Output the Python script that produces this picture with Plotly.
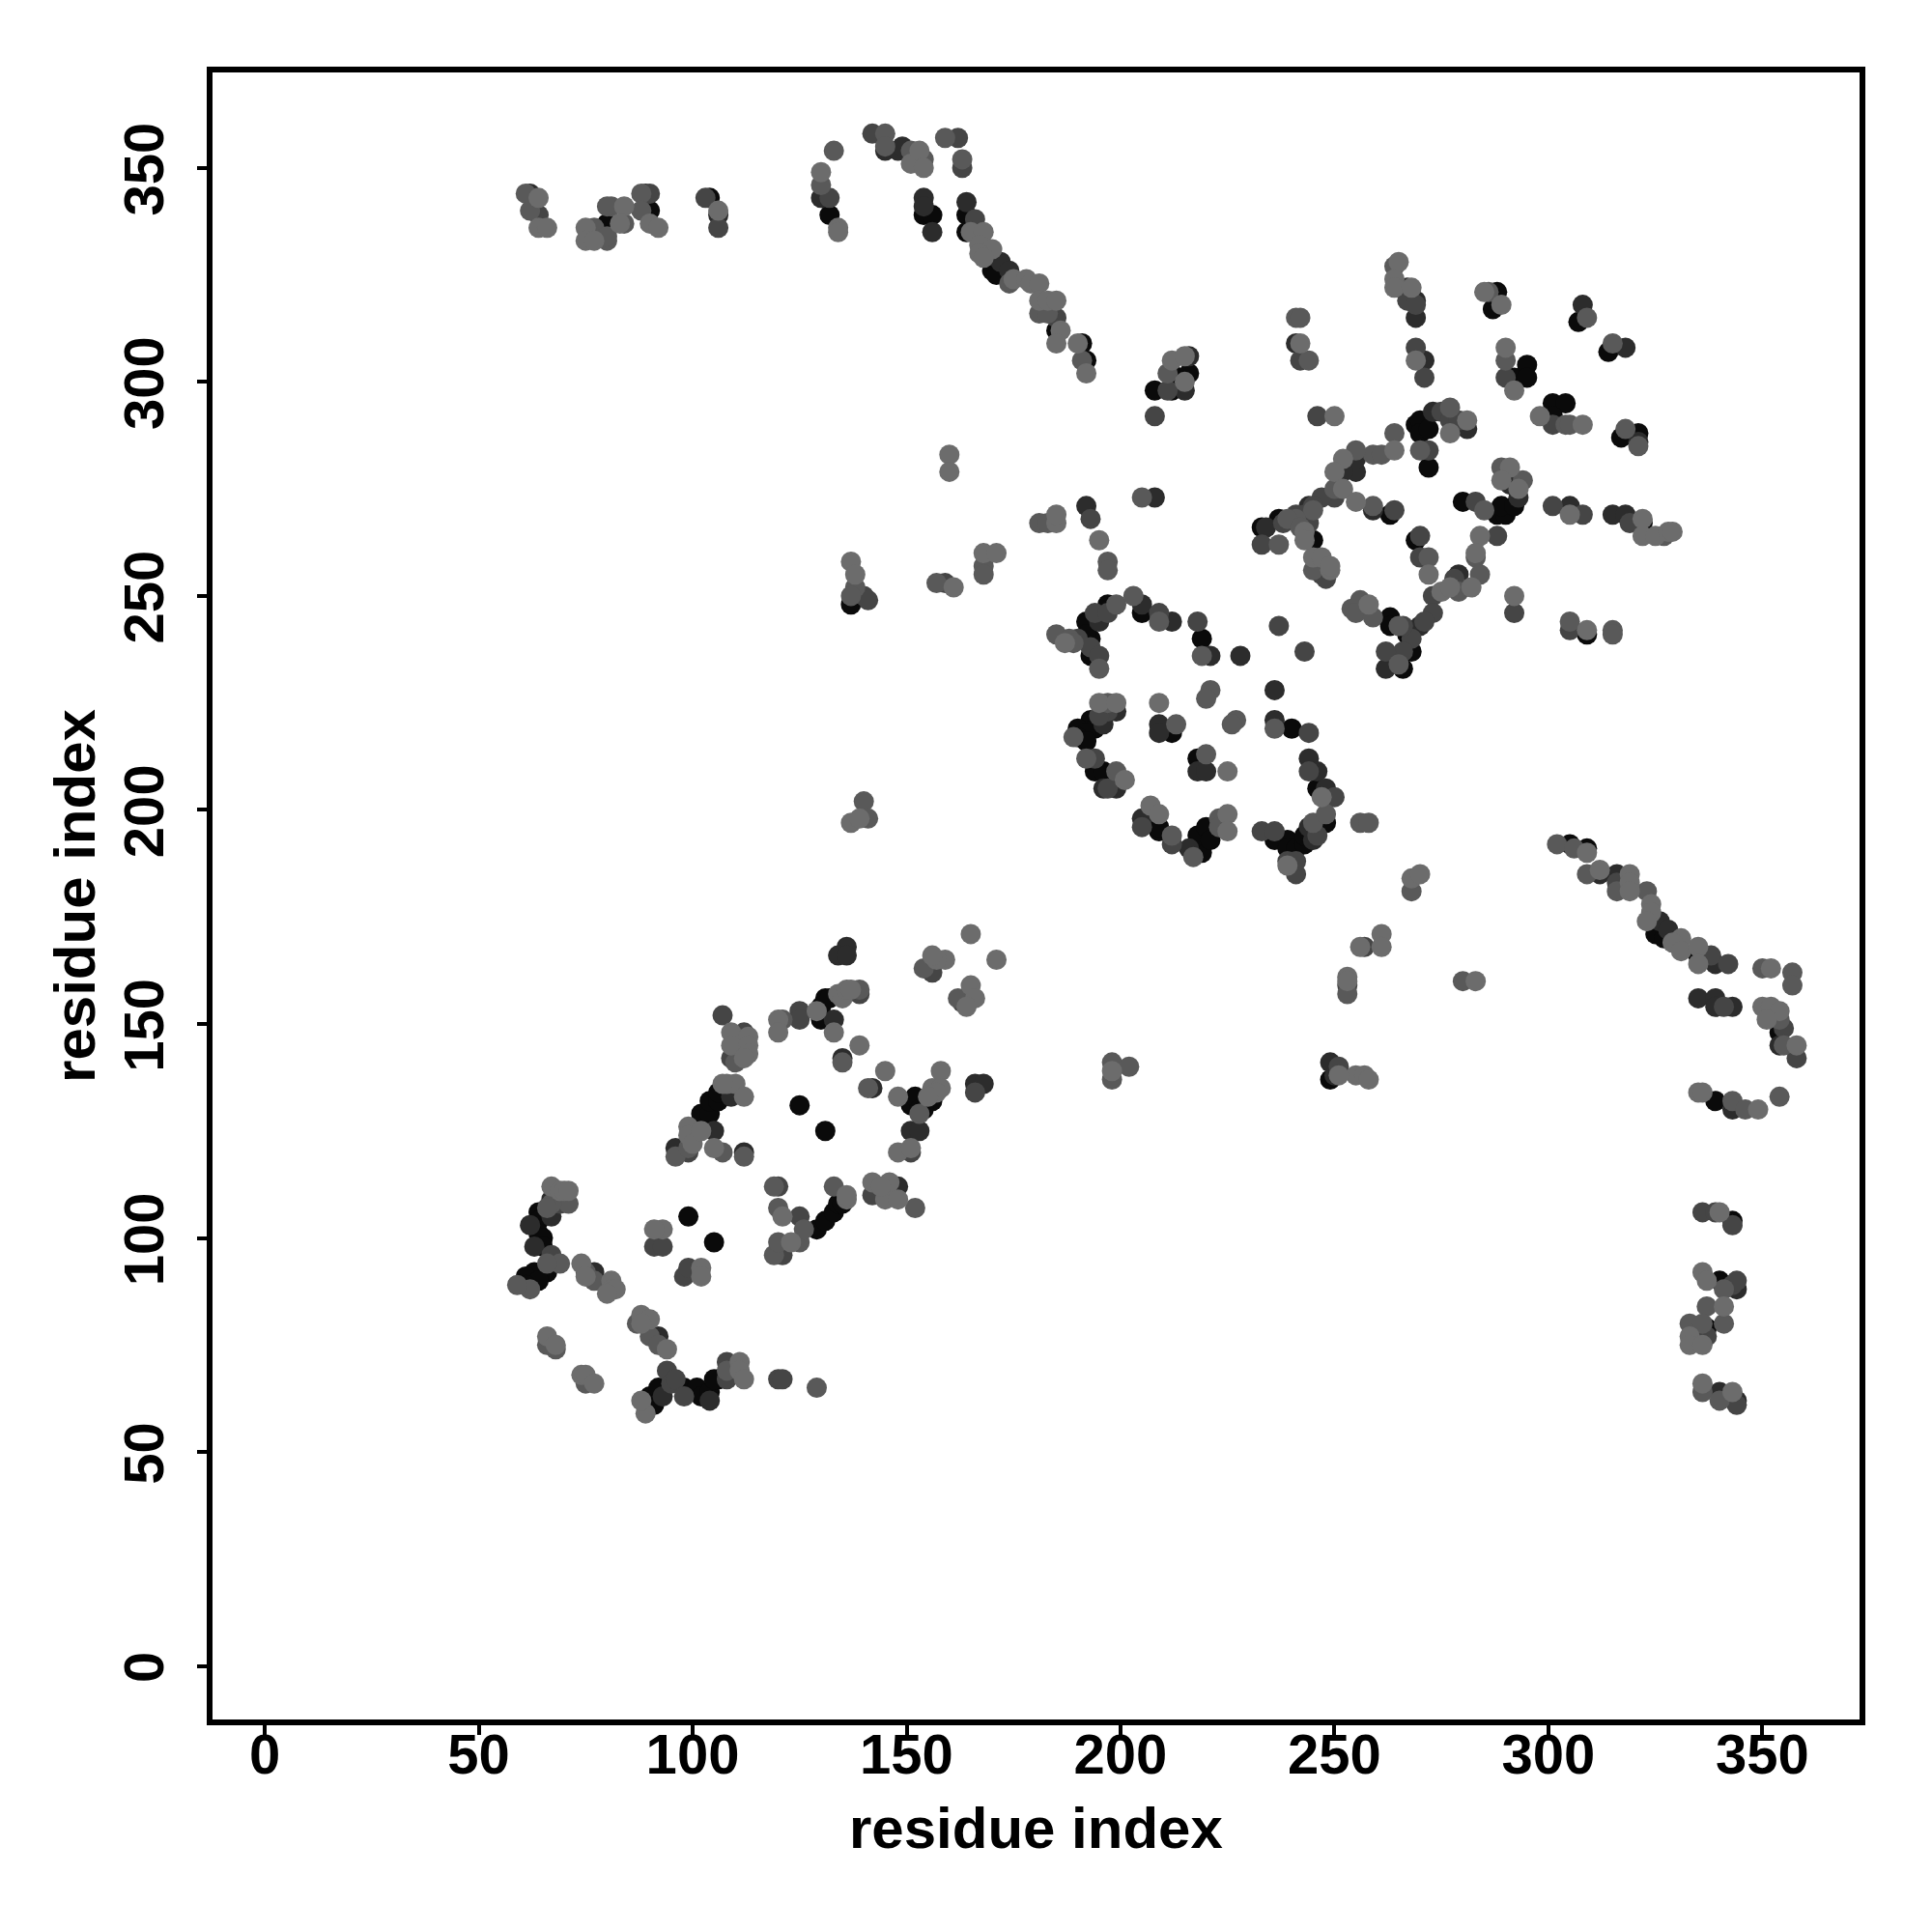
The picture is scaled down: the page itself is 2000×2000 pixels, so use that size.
import plotly.graph_objects as go

# contacts: (residue i, residue j, shade level 1=darkest .. 5=lightest)
helix_turn = [(67,112,5),(69,111,5),(70,111,5),(71,111,5),(71,108,4),(69,108,3),(67,108,4),(66,107,4),(67,109,2),
 (64,106,1),(66,106,1),(67,105,2),(62,103,2),(64,104,1),(64,101,1),(65,100,1),(63,98,2),(65,98,1),(67,96,3),(69,94,4),
 (66,94,4),(66,92,1),(63,92,1),(61,91,1),(64,90,1),(61,89,1),(62,88,4),(59,89,4),(74,94,5),(75,92,4),(77,92,2),(77,90,4),
 (75,91,5),(81,90,5),(81,88,5),(82,88,5),(80,87,5),(93,102,5),(91,102,5),(91,98,3),(93,98,3),(99,105,1),(105,99,1),
 (98,91,3),(99,93,3),(102,93,5),(102,91,5),(119,112,4),(120,112,3),(120,107,4),(121,105,5),(125,105,3),(133,112,4),
 (119,96,4),(121,96,3),(120,99,4),(123,99,5),(125,99,4),(126,102,4),(129,102,1),(131,104,1),(133,106,1),(134,108,1),
 (135,108,1),(136,109,5),(136,110,5)]
low_tail = [(66,77,5),(66,75,4),(68,74,4),(68,75,5),(74,68,5),(75,68,5),(75,66,4),(77,66,5),(88,82,5),(87,80,4),(90,81,5),
 (88,80,5),(90,77,4),(92,77,2),(92,75,4),(94,74,5),(89,59,5),(88,62,5),(89,61,1),(90,63,1),(91,61,1),(92,65,1),(93,63,2),
 (94,69,3),(95,66,3),(96,67,3),(98,63,3),(98,65,1),(101,65,1),(104,62,2),(102,63,1),(104,64,1),(106,67,1),(105,67,1),
 (108,67,3),(108,71,3),(108,69,4),(111,71,5),(111,69,5),(112,67,5),(120,67,3),(121,67,3),(129,65,4)]
mid_sheet = [(165,171,5),(171,165,5),(159,165,5),(157,165,5),(156,166,5),(154,163,4),(156,162,3),(165,159,5),(166,156,5),
 (162,156,4),(164,154,5),(163,155,3),(136,168,2),(134,166,2),(136,166,2),(107,152,3),(109,148,5),(112,148,3),(113,147,5),
 (109,145,5),(113,145,5),(113,143,5),(109,142,3),(110,141,4),(112,142,5),(120,151,5),(121,151,4),(120,148,5),(125,153,3),
 (125,151,3),(129,153,5),(130,154,1),(131,156,1),(130,151,1),(133,151,2),(132,156,1),(133,148,5),(134,157,5),(135,156,5),
 (136,158,5),(139,158,4),(139,157,3),(137,158,5),(139,145,5),(135,142,2),(135,141,4),(145,139,5),(141,135,4),(142,135,2),
 (125,131,1),(131,125,1),(148,133,5),(158,139,5),(156,135,5),(158,135,5),(157,134,5),(155,133,5),(151,131,1),(152,133,1),
 (153,130,1),(156,132,1),(153,129,4),(154,130,1),(151,125,2),(153,125,2),(148,120,5),(151,121,5),(151,120,3),(166,136,2),
 (168,136,2),(166,134,3),(96,121,2),(96,119,4),(99,120,3),(99,126,5),(99,124,5),(100,122,5),(99,121,4),(102,125,5),
 (105,125,2),(102,129,1),(104,129,1),(104,132,1),(106,132,1),(106,134,1),(109,133,2),(108,136,5),(110,136,5),(112,133,5),
 (107,136,5),(105,121,5),(107,120,4),(112,120,2),(112,119,4),(142,113,5),(146,113,5),(148,112,2),(142,110,3),(145,109,5),
 (148,109,5),(152,107,4),(144,112,5)]
top_band = [(61,344,4),(62,344,2),(64,343,5),(62,340,4),(64,339,3),(64,336,5),(66,336,5),(75,336,5),(75,333,5),(77,336,4),
 (77,333,5),(80,333,4),(80,337,1),(81,341,4),(80,341,4),(84,341,5),(84,337,4),(83,337,5),(80,334,4),(88,344,4),(89,344,2),
 (90,344,3),(88,340,4),(90,340,1),(90,337,5),(92,336,5),(103,343,3),(104,343,1),(106,340,5),(106,339,2),(106,336,3),
 (133,354,4),(130,349,5),(130,346,4),(130,343,2),(132,343,3),(132,339,1),(134,336,5),(134,335,5),(142,358,3),(145,358,4),
 (145,354,2),(145,355,4),(148,354,2),(149,355,2),(151,354,4),(151,351,5),(153,354,5),(154,352,4),(154,350,5),(159,357,4),
 (162,357,3),(163,352,4),(163,350,3),(154,343,2),(154,341,2),(154,339,1),(156,339,1),(156,335,2)]
anti_band = [(164,342,2),(164,339,1),(166,338,3),(164,335,1),(165,335,5),(168,335,5),(167,332,5),(170,331,5),(167,330,5),
 (168,329,5),(172,328,2),(170,326,1),(174,326,2),(171,325,1),(174,323,4),(175,324,5),(178,324,5),(179,323,5),(181,323,5),
 (181,319,5),(183,319,5),(185,319,5),(181,316,4),(183,316,4),(185,315,3),(185,312,1),(186,312,5),(185,309,5),(190,309,5),
 (191,309,1),(191,305,4),(192,305,1),(192,302,5),(212,305,5),(216,306,2),(215,306,5),(211,302,4),(212,302,1),(215,300,5),
 (216,302,1),(208,298,1),(211,298,3),(212,298,1),(215,298,2),(208,292,3)]
ring_top = [(185,241,4),(187,239,5),(188,240,4),(189,239,4),(190,240,3),(193,240,1),(192,244,1),(192,241,1),(193,238,3),
 (193,236,1),(195,236,3),(195,233,4),(194,246,3),(195,244,2),(197,246,3),(197,248,1),(199,248,4),(203,250,4),(205,248,2),
 (205,246,1),(209,246,3),(209,244,4),(212,244,2),(218,244,3),(219,240,1),(219,236,4),(221,236,2),(228,236,2),(237,243,3),
 (243,237,3),(221,228,4),(220,226,4),(209,225,5),(227,221,4),(226,220,4),(236,228,2),(236,221,2),(236,219,4),(240,219,1),
 (244,218,3),(209,220,2),(209,218,2),(212,218,1),(213,220,4),(244,212,2),(244,209,3),(246,209,2),(246,205,1),(248,205,2),
 (247,203,5),(250,203,3),(218,212,1),(220,213,4),(218,209,2),(220,209,2),(225,209,5)]
ring_low = [(195,225,5),(197,225,4),(199,225,5),(199,223,2),(197,223,3),(195,222,3),(193,221,1),(196,220,2),(194,219,1),
 (190,219,1),(192,218,1),(189,217,4),(190,217,1),(192,216,1),(192,212,4),(194,212,3),(194,209,1),(196,209,1),(196,205,2),
 (197,205,3),(199,209,4),(201,207,5),(199,205,2),(205,198,2),(205,196,3),(207,201,5),(209,199,5),(209,195,1),(209,196,1),
 (212,194,4),(212,192,3),(216,191,2),(217,189,4),(218,192,1),(219,190,1),(218,194,1),(220,196,1),(221,193,1),(223,198,4),
 (225,199,5),(225,195,5),(223,196,4),(233,195,3),(236,195,3),(236,193,1),(239,193,1),(239,191,1),(239,188,3),(239,187,5),
 (241,185,3),(241,191,1),(241,188,3),(243,192,1),(243,194,1),(245,197,4),(246,194,3),(248,197,1),(248,199,4),(245,193,2),
 (244,196,2),(256,197,4),(258,197,4)]
fan_top = [(265,328,5),(264,327,4),(264,324,5),(264,322,5),(267,322,2),(268,322,5),(267,319,3),(269,319,2),(269,318,3),
 (269,315,2),(241,315,4),(242,315,4),(241,309,2),(242,309,5),(242,305,3),(244,305,4),(269,308,3),(269,305,5),(271,305,2),
 (271,301,3),(285,321,5),(286,321,4),(288,321,1),(287,317,1),(289,318,5),(308,318,2),(307,314,1),(309,315,4),(314,307,1),
 (315,309,4),(318,308,2),(290,308,5),(290,305,4),(290,301,3),(292,301,1),(295,304,1),(295,301,1),(292,298,5),(301,295,1),
 (304,295,1),(301,292,1),(298,292,5),(301,290,3),(304,290,4),(305,290,4),(308,290,5),(317,287,1),(318,289,4),(321,288,1),
 (321,286,2),(321,285,4),(246,292,3),(250,292,5)]
ring_right = [(269,290,1),(270,291,1),(270,288,1),(273,293,2),(272,289,1),(275,293,3),(277,294,4),(277,291,3),(277,288,5),
 (281,289,2),(281,291,5),(279,291,3),(270,284,4),(272,284,3),(272,280,1),(264,288,4),(264,284,5),(259,283,4),(261,283,4),
 (255,284,4),(252,282,5),(255,279,2),(255,282,2),(250,279,5),(252,279,2),(250,275,4),(252,275,5),(250,273,3),(247,273,3),
 (245,271,3),(244,271,2),(245,270,4),(243,269,3),(241,269,3),(244,267,3),(241,268,4),(238,267,3),(237,268,1),(234,266,2),
 (233,262,3),(237,262,4),(233,266,1),(239,268,4),(242,266,4),(243,265,5),(255,272,5),(259,271,4),(259,270,2),(264,270,3),
 (263,269,1),(245,263,1),(243,263,5),(245,259,5),(247,259,5),(245,256,4),(249,256,5),(247,255,3),(248,254,3),(249,257,5),
 (270,264,3),(269,263,1),(270,259,3),(272,259,4),(272,255,5),(280,272,1),(283,272,3),(285,270,4),(288,269,1),(290,269,1),
 (289,271,1),(292,271,1),(293,273,2),(289,280,4),(291,280,5),(289,277,5),(291,276,2),(294,277,4),(293,275,5),(301,271,3),
 (305,271,2),(305,269,5),(308,269,3),(315,269,2),(318,269,2),(319,267,3),(322,268,5),(322,267,1),(322,264,5),(325,264,5),
 (327,264,4),(328,265,5),(329,265,5),(284,264,5),(288,264,3),(283,260,5),(283,259,4),(284,255,4),(279,255,2),(278,254,3),
 (282,252,5),(279,251,4),(275,251,5),(273,250,3),(277,252,5),(292,250,5),(292,246,3),(305,244,4),(305,242,3),(309,242,5),
 (309,241,1),(315,242,4),(315,241,4),(254,247,4),(256,249,4),(255,246,4),(258,248,5),(259,245,4),(263,245,1),(263,243,1),
 (265,243,4),(273,246,3),(271,244,3),(270,243,2),(268,242,2),(267,241,1),(268,240,3),(266,243,3),(268,237,1),(266,237,3),
 (262,237,3),(262,233,2),(266,233,1),(265,234,4)]
lower_right = [(302,192,4),(305,192,1),(306,191,4),(309,191,1),(309,190,5),(309,185,4),(312,186,5),(312,185,2),(316,185,2),
 (316,183,3),(316,181,4),(319,185,5),(319,183,5),(319,181,5),(323,181,4),(324,178,5),(324,176,5),(323,174,5),(326,174,2),
 (325,171,1),(328,172,2),(327,170,1),(331,170,5),(329,169,5),(331,167,5),(335,168,5),(335,166,1),(335,164,5),(338,166,3),
 (339,164,2),(342,164,3),(350,163,4),(352,163,5),(357,162,4),(357,159,4),(335,156,2),(339,156,2),(339,154,2),(343,154,2),
 (341,154,3),(350,154,5),(352,154,5),(354,153,5),(351,151,5),(354,151,4),(355,149,3),(354,148,1),(354,145,2),(355,145,4),
 (358,145,5),(358,142,3),(335,134,5),(336,134,5),(339,132,1),(343,132,4),(343,130,2),(346,130,4),(349,130,5),(354,133,4),
 (336,106,3),(339,106,3),(340,106,5),(343,104,1),(343,103,3),(336,92,5),(337,90,5),(340,90,1),(343,89,3),(344,88,2),
 (341,88,4),(344,90,3),(337,84,4),(341,84,5),(333,80,4),(333,77,5),(333,75,5),(336,75,5),(337,79,1),(337,77,3),(341,80,4),
 (336,80,4),(336,66,5),(336,64,4),(340,64,2),(340,62,4),(343,64,5),(344,62,2),(344,61,3)]
scattered = [(268,184,5),(270,185,5),(268,181,4),(261,171,5),(261,168,5),(256,168,5),(257,168,3),(253,161,5),(253,159,3),
 (253,157,4),(253,160,5),(280,160,4),(283,160,5),(198,141,4),(202,140,4),(198,137,4),(198,139,5),(249,141,2),(251,140,3),
 (249,137,1),(250,138,2),(255,138,5),(257,138,5),(258,137,5),(251,138,5),(137,258,5),(138,255,5),(138,252,4),(140,250,3),
 (137,248,1),(141,249,3),(137,250,4),(157,253,4),(159,253,3),(161,252,5),(160,283,5),(160,279,5),(140,202,4),(137,197,5),
 (141,198,4),(139,198,5),(168,260,5),(171,260,5),(168,257,4),(168,255,4),(181,267,4),(185,267,5),(185,269,5),(183,267,4),
 (192,271,2),(193,268,3),(195,263,5),(197,258,4),(197,256,4),(205,273,4),(208,273,2)]

tick_values = [0, 50, 100, 150, 200, 250, 300, 350]
axis_label = "residue index"

shade_colors = {1: "#0a0a0a", 2: "#2c2c2c", 3: "#454545", 4: "#595959", 5: "#6c6c6c"}

contacts = (helix_turn + low_tail + mid_sheet + top_band + anti_band + ring_top + ring_low
            + fan_top + ring_right + lower_right + scattered)
contacts = sorted(contacts, key=lambda c: c[2])

fig = go.Figure(go.Scatter(
    x=[c[0] for c in contacts],
    y=[c[1] for c in contacts],
    mode="markers",
    marker=dict(size=21, color=[shade_colors[c[2]] for c in contacts], line=dict(width=0)),
    hoverinfo="skip",
))

font_family = "Liberation Sans"
title_font = dict(family=font_family, size=60, color="black", weight=700)
axis_style = dict(
    tickmode="array", tickvals=tick_values, ticktext=[str(v) for v in tick_values],
    ticks="outside", ticklen=10, tickwidth=4, tickcolor="black",
    tickfont=dict(family=font_family, size=58, color="black", weight=700),
    showgrid=False, zeroline=False, showline=True, linecolor="black", linewidth=6, mirror=True,
)
fig.update_xaxes(range=[-12.2, 372.7], ticklabelstandoff=-30, **axis_style)
fig.update_yaxes(range=[-12.5, 372.3], tickangle=-90, ticklabelstandoff=12, ticklabelshift=10,
                 title=dict(text=axis_label, standoff=0, font=title_font), **axis_style)
fig.add_annotation(text=axis_label, xref="paper", yref="paper", x=0.5, y=0, yshift=-112,
                   xanchor="center", yanchor="middle", showarrow=False, font=title_font)
fig.update_layout(width=1984, height=1984, autosize=False,
                  margin=dict(l=212, r=67, t=67, b=212, pad=0),
                  paper_bgcolor="white", plot_bgcolor="white", showlegend=False)
fig.write_html("out.html")
